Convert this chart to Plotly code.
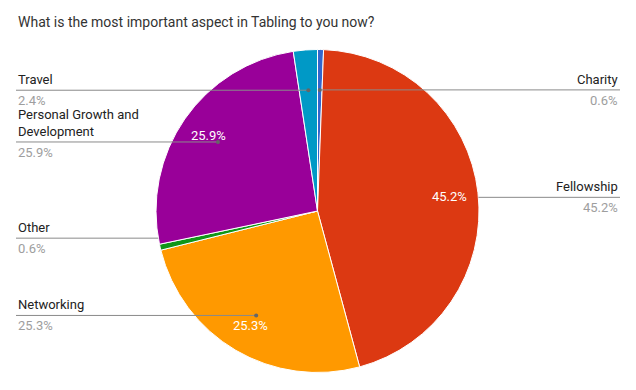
import math
import plotly.graph_objects as go

title = "What is the most important aspect in Tabling to you now?"
categories = ["Charity", "Fellowship", "Networking", "Other",
              "Personal Growth and Development", "Travel"]
label_text = ["Charity", "Fellowship", "Networking", "Other",
              "Personal Growth and<br>Development", "Travel"]
values = [0.6, 45.2, 25.3, 0.6, 25.9, 2.4]
colors = ["#3366CC", "#DC3912", "#FF9900", "#109618", "#990099", "#0099C6"]
label_side = ["right", "right", "left", "left", "left", "left"]
inside_label = [False, True, True, False, True, False]
leader_to_edge = [False, True, False, True, False, False]

W, H = 636, 390
cx, cy, R = 317.5, 211.0, 161.5
FONT = "Roboto, Arial, sans-serif"

fig = go.Figure()
fig.add_trace(go.Pie(
    labels=categories, values=values, sort=False, direction="clockwise",
    rotation=0, marker=dict(colors=colors, line=dict(color="white", width=1)),
    textinfo="none", hoverinfo="label+percent", showlegend=False,
    domain=dict(x=[(cx - R) / W, (cx + R) / W], y=[1 - (cy + R) / H, 1 - (cy - R) / H]),
))
# invisible cartesian helper for pixel coordinates
fig.add_trace(go.Scatter(x=[0, W], y=[0, H], mode="markers", marker=dict(opacity=0),
                         hoverinfo="skip", showlegend=False))

shapes = []
annotations = []
total = sum(values)
cum = 0.0
for name, txt, v, side, ins, edge in zip(categories, label_text, values, label_side,
                                         inside_label, leader_to_edge):
    mid = (cum + v / 2) / total * 2 * math.pi
    cum += v
    s, c = math.sin(mid), math.cos(mid)
    px, py = cx + 0.75 * R * s, cy - 0.75 * R * c
    ly = py
    if edge:
        dx = math.sqrt(R * R - (ly - cy) ** 2)
        ex = cx + dx if side == "right" else cx - dx
    else:
        ex = px
    if side == "left":
        x0, x1, tx, anc = 16, ex, 16, "left"
    else:
        x0, x1, tx, anc = ex, 620, 620, "right"
    shapes.append(dict(type="line", xref="x", yref="y", x0=x0, x1=x1, y0=ly, y1=ly,
                       line=dict(color="#8a8a8a", width=1), layer="above"))
    if not edge:
        shapes.append(dict(type="circle", xref="x", yref="y", x0=px - 2, x1=px + 2,
                           y0=py - 2, y1=py + 2, fillcolor="#666666",
                           line=dict(width=0), layer="above"))
    annotations.append(dict(x=tx, y=ly - 1, xref="x", yref="y", text=txt, showarrow=False,
                            xanchor=anc, yanchor="bottom", align=anc,
                            font=dict(family=FONT, size=13, color="#222222")))
    annotations.append(dict(x=tx, y=ly + 1, xref="x", yref="y", text=f"{v:.1f}%",
                            showarrow=False, xanchor=anc, yanchor="top",
                            font=dict(family=FONT, size=13, color="#9e9e9e")))
    if ins:
        ix, iy = cx + 0.82 * R * s, cy - 0.82 * R * c
        annotations.append(dict(x=ix, y=iy, xref="x", yref="y", text=f"{v:.1f}%",
                                showarrow=False, xanchor="center", yanchor="middle",
                                font=dict(family=FONT, size=13, color="white")))

annotations.append(dict(x=16, y=22, xref="x", yref="y", text=title, showarrow=False,
                        xanchor="left", yanchor="middle",
                        font=dict(family=FONT, size=14, color="#333333")))

fig.update_layout(
    width=W, height=H, margin=dict(l=0, r=0, t=0, b=0),
    paper_bgcolor="white", plot_bgcolor="white",
    xaxis=dict(range=[0, W], visible=False, fixedrange=True, domain=[0, 1]),
    yaxis=dict(range=[H, 0], visible=False, fixedrange=True, domain=[0, 1]),
    shapes=shapes, annotations=annotations,
)
fig.write_html("out.html", config={"displayModeBar": False},
               post_script="document.body.style.margin='0';")
